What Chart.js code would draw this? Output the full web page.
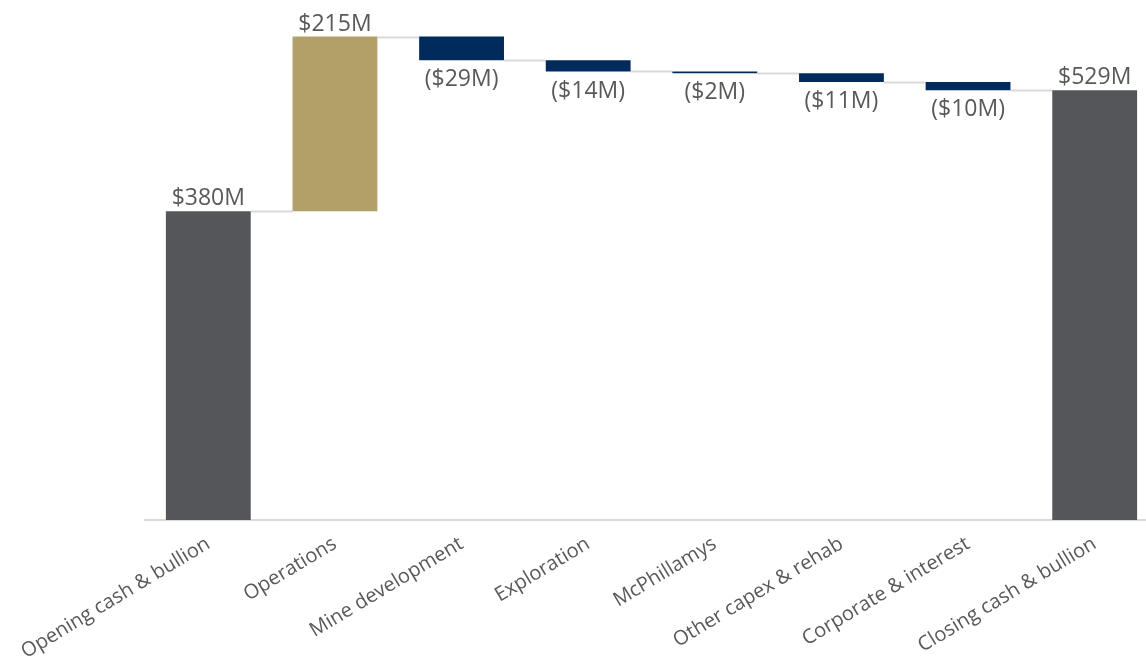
<!DOCTYPE html>
<html><head><meta charset="utf-8">
<script src="https://cdn.jsdelivr.net/npm/chart.js@4"></script>
<style>html,body{margin:0;padding:0;background:#fff;overflow:hidden;}#wrap{position:absolute;left:0;top:0;width:1158px;height:668px;}</style>
</head><body><div id="wrap"><canvas id="c" width="1158" height="668"></canvas></div>
<script>
const categories = ['Opening cash & bullion','Operations','Mine development','Exploration','McPhillamys','Other capex & rehab','Corporate & interest','Closing cash & bullion'];
const changes = [380, 215, -29, -14, -2, -11, -10, 529];
const isTotal = [true, false, false, false, false, false, false, true];
const colTotal = '#55565A', colUp = '#B3A068', colDown = '#002B5C';

const ranges = [], colors = [];
let run = 0;
changes.forEach((v, i) => {
  if (isTotal[i]) { ranges.push([0, v]); run = v; colors.push(colTotal); }
  else { ranges.push([run, run + v]); run += v; colors.push(v >= 0 ? colUp : colDown); }
});
function fmt(v, i){ return (v < 0 && !isTotal[i]) ? '($' + Math.abs(v) + 'M)' : '$' + v + 'M'; }

const wfPlugin = {
  id: 'wf',
  beforeDatasetsDraw(chart){
    const meta = chart.getDatasetMeta(0), ctx = chart.ctx, y = chart.scales.y;
    ctx.save(); ctx.strokeStyle = '#D9D9D9'; ctx.lineWidth = 2;
    for (let i = 0; i < meta.data.length - 1; i++) {
      const a = meta.data[i], b = meta.data[i+1];
      const py = Math.round(y.getPixelForValue(ranges[i][1])) + 0.5;
      ctx.beginPath(); ctx.moveTo(a.x + a.width/2, py); ctx.lineTo(b.x - b.width/2, py); ctx.stroke();
    }
    ctx.restore();
  },
  afterDatasetsDraw(chart){
    const meta = chart.getDatasetMeta(0), ctx = chart.ctx, y = chart.scales.y;
    ctx.save(); ctx.fillStyle = '#595959'; ctx.font = '23px "Open Sans"'; ctx.textAlign = 'center';
    meta.data.forEach((bar, i) => {
      const v = changes[i];
      const hi = Math.max(ranges[i][0], ranges[i][1]), lo = Math.min(ranges[i][0], ranges[i][1]);
      if (v >= 0 || isTotal[i]) { ctx.textBaseline = 'bottom'; ctx.fillText(fmt(v,i), bar.x, y.getPixelForValue(hi) - 1); }
      else { ctx.textBaseline = 'top'; ctx.fillText(fmt(v,i), bar.x, y.getPixelForValue(lo) + 8); }
    });
    ctx.restore();
  }
};

new Chart(document.getElementById('c'), {
  type: 'bar',
  data: { labels: categories, datasets: [{ data: ranges, backgroundColor: colors, borderWidth: 0, barPercentage: 1, categoryPercentage: 0.67 }] },
  options: {
    responsive: false, animation: false,
    layout: { padding: { left: 145, right: 0, top: 0, bottom: 0 } },
    plugins: { legend: { display: false }, tooltip: { enabled: false } },
    scales: {
      y: { display: false, min: 0, max: 640 },
      x: {
        grid: { display: false },
        border: { display: true, color: '#D9D9D9', width: 2 },
        ticks: { color: '#595959', font: { family: 'Open Sans', size: 20 }, maxRotation: 31, minRotation: 31, autoSkip: false, padding: 4 },
        afterFit(s){ s.height = 148; }
      }
    }
  },
  plugins: [wfPlugin]
});
</script></body></html>
